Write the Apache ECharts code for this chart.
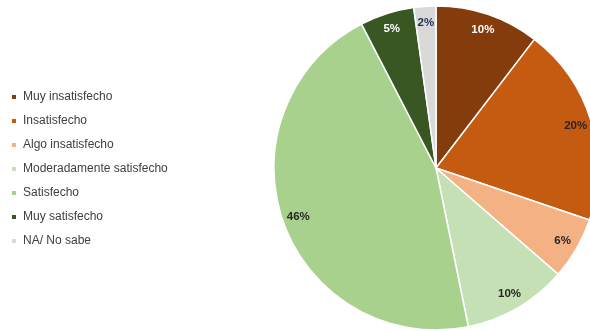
<!DOCTYPE html>
<html><head><meta charset="utf-8">
<script src="https://cdn.jsdelivr.net/npm/echarts@6/dist/echarts.min.js"></script>
<style>html,body{margin:0;padding:0;background:#fff}#c{width:590px;height:331px}</style>
</head><body><div id="c"></div>
<script>
const categories = ['Muy insatisfecho','Insatisfecho','Algo insatisfecho','Moderadamente satisfecho','Satisfecho','Muy satisfecho','NA/ No sabe'];
const values = [10.4, 19.8, 6.2, 10.4, 45.6, 5.4, 2.2];
const colors = ['#843C0C','#C55A11','#F4B183','#C5E0B4','#A9D18E','#385723','#D9D9D9'];
const labelColors = ['#ffffff','#262626','#262626','#262626','#262626','#ffffff','#1f3050'];

const chart = echarts.init(document.getElementById('c'));
const font = 'Liberation Sans, Arial, sans-serif';
chart.setOption({
  animation: false,
  legend: {
    orient: 'vertical', left: 10, top: 91, padding: 0,
    itemWidth: 6, itemHeight: 6, itemGap: 12, icon: 'rect',
    textStyle: {fontSize: 12, color: '#404040', fontFamily: font, lineHeight: 12, padding: [0,0,0,1]},
    data: categories
  },
  series: [{
    type: 'pie', center: [436, 168], radius: [0, 162], startAngle: 90, clockwise: true,
    data: categories.map((n,i)=>({name:n, value:values[i], itemStyle:{color:colors[i]}})),
    itemStyle: {borderColor: '#fff', borderWidth: 1.5},
    label: {show: false}, labelLine: {show: false}, emphasis: {disabled: true}
  },{
    type: 'pie', center: [436, 168], radius: [124, 162], startAngle: 90, clockwise: true,
    silent: true, legendHoverLink: false,
    data: categories.map((n,i)=>({name:n, value:values[i], itemStyle:{color:'transparent'},
      label:{color: labelColors[i]}})),
    itemStyle: {borderWidth: 0},
    label: {show: true, position: 'inside', fontSize: 11.5, fontWeight: 'bold', fontFamily: font,
      formatter: p => Math.round(p.value) + '%'},
    labelLine: {show: false}, emphasis: {disabled: true}
  }]
});
</script></body></html>
